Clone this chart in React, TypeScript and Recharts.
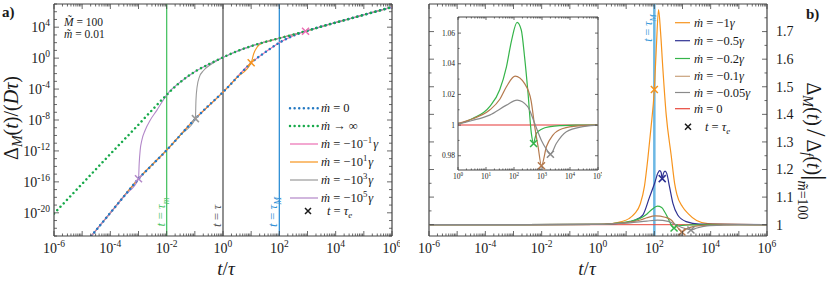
import React from 'react';
import { LineChart, Line, XAxis, YAxis, ReferenceLine, ReferenceDot } from 'recharts';

const SERIF = "'Liberation Serif', 'DejaVu Serif', 'Times New Roman', serif";
const AXIS = '#444444';
const INK = '#1a1a1a';

// ---------- panel a (log10 t/tau, log10 Delta_M/(D tau)) ----------
const zeroLogT = [-5, -4.7, -4, -3.5, -3, -2.5, -2, -1.5, -1, -0.5, 0, 0.5, 1, 1.5, 2, 2.5, 3, 3.5, 4, 5, 6];
const zeroLogD = [-24.4, -23.1, -20.0, -17.8, -15.6, -13.75, -11.9, -9.9, -7.9, -6.1, -4.4, -2.5, -0.6, 0.77, 2.0, 2.9, 3.55, 4.1, 4.6, 5.6, 6.6];

const infLogT = [-6, -5, -4, -3, -2.5, -2, -1.5, -1, -0.5, 0, 0.5, 1, 1.5, 2, 2.5, 3, 3.5, 4, 5, 6];
const infLogD = [-20.1, -16.25, -12.4, -8.6, -6.65, -4.75, -3.05, -1.75, -0.78, 0.1, 0.9, 1.55, 2.1, 2.58, 3.05, 3.55, 4.1, 4.6, 5.6, 6.6];

const pinkLogT = [-5, -4.7, -4, -3, -2, -1, 0, 1, 1.5, 2, 2.5, 2.93, 3.5, 4, 5, 6];
const pinkLogD = [-24.4, -23.1, -20.0, -15.6, -11.9, -7.9, -4.4, -0.6, 0.77, 2.0, 2.9, 3.48, 4.1, 4.6, 5.6, 6.6];

const orangeLogT = [-5, -4.7, -4, -3, -2, -1, 0, 0.5, 1.0, 1.09, 1.21, 1.39, 1.63, 1.86, 2.5, 3, 4, 5, 6];
const orangeLogD = [-24.4, -23.1, -20.0, -15.6, -11.9, -7.9, -4.4, -2.5, -0.6, 0.57, 1.42, 1.95, 2.2, 2.44, 3.05, 3.55, 4.6, 5.6, 6.6];

const grayLogT = [-5, -4.7, -4, -3, -2, -1.5, -0.98, -0.96, -0.92, -0.84, -0.69, -0.45, -0.15, 0.1, 0.5, 1, 1.5, 2, 3, 4, 5, 6];
const grayLogD = [-24.4, -23.1, -20.0, -15.6, -11.9, -9.9, -7.82, -5.46, -3.74, -2.45, -1.6, -0.85, -0.2, 0.26, 0.9, 1.55, 2.1, 2.58, 3.55, 4.6, 5.6, 6.6];

const purpleLogT = [-5, -4.7, -4, -3.5, -3.0, -2.975, -2.94, -2.88, -2.76, -2.58, -2.35, -2.17, -2.0, -1.5, -1, -0.5, 0, 0.5, 1, 1.5, 2, 3, 4, 5, 6];
const purpleLogD = [-24.4, -23.1, -20.0, -17.8, -15.6, -13.6, -11.9, -10.6, -9.3, -8.0, -6.75, -5.7, -4.75, -3.05, -1.75, -0.78, 0.1, 0.9, 1.55, 2.1, 2.58, 3.55, 4.6, 5.6, 6.6];

// crosses t = tau_e : pink, orange, gray, purple
const aCrossLogT = [2.93, 1.0, -0.98, -3.0];
const aCrossLogD = [3.48, -0.6, -7.82, -15.6];

// vertical markers tau_m, tau, tau_M
const aMarkLogT = [-2, 0, 2];

// ---------- panel b (log10 t/tau, ratio) ----------
const b1LogT = [-6, 0, 0.5, 0.8, 1.1, 1.3, 1.5, 1.65, 1.77, 1.88, 2.0, 2.07, 2.15, 2.22, 2.3, 2.42, 2.6, 2.72, 2.8, 3.0, 3.2, 3.5, 3.9, 6];
const b1Val = [1, 1.001, 1.004, 1.01, 1.022, 1.04, 1.075, 1.14, 1.24, 1.35, 1.49, 1.64, 1.78, 1.70, 1.57, 1.40, 1.25, 1.15, 1.11, 1.065, 1.04, 1.015, 1.004, 1];

const b05LogT = [-6, 0, 0.5, 1.0, 1.3, 1.59, 1.83, 2.01, 2.13, 2.19, 2.24, 2.28, 2.32, 2.38, 2.44, 2.54, 2.66, 2.83, 3.13, 3.6, 6];
const b05Val = [1, 1.001, 1.003, 1.008, 1.016, 1.035, 1.10, 1.15, 1.188, 1.196, 1.19, 1.167, 1.185, 1.194, 1.186, 1.137, 1.077, 1.035, 1.011, 1.002, 1];

const b02LogT = [-6, 0, 0.54, 1.13, 1.49, 1.73, 1.91, 2.11, 2.26, 2.38, 2.5, 2.62, 2.70, 2.75, 2.8, 3.0, 3.3, 3.7, 4.2, 5, 6];
const b02Val = [1, 1.001, 1.0044, 1.012, 1.023, 1.038, 1.055, 1.067, 1.062, 1.044, 1.021, 0.9946, 0.988, 0.9915, 0.9946, 0.9975, 0.999, 0.9997, 1, 1, 1];

const b01LogT = [-6, 0, 0.5, 1.13, 1.5, 1.73, 2.04, 2.38, 2.61, 2.74, 2.86, 2.98, 3.16, 3.39, 3.75, 4.3, 5, 6];
const b01Val = [1, 1.0013, 1.004, 1.0098, 1.017, 1.025, 1.0319, 1.027, 1.016, 0.999, 0.986, 0.9735, 0.986, 0.9935, 0.9978, 0.9995, 1, 1];

const b005LogT = [-6, 0, 0.5, 1.13, 1.73, 2.11, 2.49, 2.74, 2.98, 3.15, 3.30, 3.51, 3.87, 4.46, 5, 6];
const b005Val = [1, 1.001, 1.003, 1.0065, 1.013, 1.0163, 1.012, 1.001, 0.990, 0.9845, 0.981, 0.988, 0.9957, 0.999, 1, 1];

const b0LogT = [-6, 6];
const b0Val = [1, 1];

// crosses: -1, -0.5, -0.2, -0.1, -0.05
const bCrossLogT = [2.0, 2.28, 2.70, 2.98, 3.30];
const bCrossVal = [1.49, 1.167, 0.988, 0.9735, 0.981];

const bMarkLogT = 2;

// ---------- axes ----------
const mainXDecades = [-6, -5, -4, -3, -2, -1, 0, 1, 2, 3, 4, 5, 6];
const mainXLabels = [-6, -4, -2, 0, 2, 4, 6];
const aYDecades = [-23, -22, -21, -20, -19, -18, -17, -16, -15, -14, -13, -12, -11, -10, -9, -8, -7, -6, -5, -4, -3, -2, -1, 0, 1, 2, 3, 4, 5, 6, 7];
const aYLabels = [-20, -16, -12, -8, -4, 0, 4];
const bYTicks = [1, 1.05, 1.1, 1.15, 1.2, 1.25, 1.3, 1.35, 1.4, 1.45, 1.5, 1.55, 1.6, 1.65, 1.7, 1.75];
const bYLabels = [1, 1.1, 1.2, 1.3, 1.4, 1.5, 1.6, 1.7];
const insetXDecades = [0, 1, 2, 3, 4, 5];
const insetYTicks = [0.98, 0.99, 1, 1.01, 1.02, 1.03, 1.04, 1.05, 1.06, 1.07];
const insetYLabels = [0.98, 1, 1.02, 1.04, 1.06];

const withMinor = (decs: number[]) =>
  decs.flatMap((d, i) => (i === decs.length - 1 ? [10 ** d] : [1, 2, 3, 4, 5, 6, 7, 8, 9].map((k) => k * 10 ** d)));

const logRows = (lt: number[], ld: number[]) => lt.map((v, i) => ({ t: 10 ** v, y: 10 ** ld[i] }));
const linRows = (lt: number[], vals: number[]) => lt.map((v, i) => ({ t: 10 ** v, y: vals[i] }));

const txt = (fs: number) => ({ fontFamily: SERIF, fontSize: fs });

function LogXTick(props: any) {
  const { x, payload, pTop, pBottom, lbls, fs, majLen, minLen, gap } = props;
  const e = Math.log10(payload.value);
  const n = Math.round(e);
  const major = Math.abs(e - n) < 1e-6;
  const len = major ? majLen : minLen;
  return (
    <g>
      <line x1={x} x2={x} y1={pBottom} y2={pBottom - len} stroke={AXIS} strokeWidth={0.8} />
      <line x1={x} x2={x} y1={pTop} y2={pTop + len} stroke={AXIS} strokeWidth={0.8} />
      {major && lbls.includes(n) && (
        <text x={x} y={pBottom + gap} textAnchor="middle" style={txt(fs)} fill={INK}>
          10
          <tspan dy={-fs * 0.42} style={{ fontSize: fs * 0.68 }}>
            {n}
          </tspan>
        </text>
      )}
    </g>
  );
}

function LogYTick(props: any) {
  const { y, payload, pLeft, pRight, lbls, fs } = props;
  const n = Math.round(Math.log10(payload.value));
  const major = lbls.includes(n);
  const len = major ? 5 : 3;
  return (
    <g>
      <line x1={pLeft} x2={pLeft + len} y1={y} y2={y} stroke={AXIS} strokeWidth={0.8} />
      <line x1={pRight} x2={pRight - len} y1={y} y2={y} stroke={AXIS} strokeWidth={0.8} />
      {major && (
        <text x={pLeft - 4} y={y + 5} textAnchor="end" style={txt(fs)} fill={INK}>
          10
          <tspan dy={-fs * 0.42} style={{ fontSize: fs * 0.68 }}>
            {n}
          </tspan>
        </text>
      )}
    </g>
  );
}

function LinYTick(props: any) {
  const { y, payload, pLeft, pRight, lbls, fs, side, majLen, minLen } = props;
  const v = payload.value as number;
  const major = lbls.some((l: number) => Math.abs(l - v) < 1e-9);
  const len = major ? majLen : minLen;
  const label = Number(v.toFixed(2)).toString();
  return (
    <g>
      <line x1={pLeft} x2={pLeft + len} y1={y} y2={y} stroke={AXIS} strokeWidth={0.8} />
      <line x1={pRight} x2={pRight - len} y1={y} y2={y} stroke={AXIS} strokeWidth={0.8} />
      {major && (
        <text
          x={side === 'right' ? pRight + 9 : pLeft - 3}
          y={y + fs * 0.35}
          textAnchor={side === 'right' ? 'start' : 'end'}
          style={txt(fs)}
          fill={INK}
        >
          {label}
        </text>
      )}
    </g>
  );
}

function VLabel(props: any) {
  const { viewBox, sub, color, fromBottom, fromTop, fs } = props;
  if (!viewBox) return null;
  const x = viewBox.x - 2;
  const y = fromTop != null ? viewBox.y + fromTop : viewBox.y + viewBox.height - fromBottom;
  return (
    <text transform={`translate(${x},${y}) rotate(-90)`} textAnchor="middle" style={txt(fs)} fill={color}>
      <tspan fontStyle="italic">t</tspan> = <tspan fontStyle="italic">τ</tspan>
      {sub && (
        <tspan dy={fs * 0.3} style={{ fontSize: fs * 0.72 }} fontStyle="italic">
          {sub}
        </tspan>
      )}
    </text>
  );
}

function Cross({ cx, cy, color, s = 3.5, w = 1.5 }: any) {
  return (
    <path
      d={`M${cx - s},${cy - s}L${cx + s},${cy + s}M${cx - s},${cy + s}L${cx + s},${cy - s}`}
      stroke={color}
      strokeWidth={w}
      fill="none"
    />
  );
}

const A = { blue: '#2479c2', green: '#17a94a', pink: '#ec6fb3', orange: '#f7941d', gray: '#9a9a9a', purple: '#b388c9' };
const B = { orange: '#f7941d', navy: '#2e3192', green: '#35b44a', brown: '#b57a4e', gray: '#8a8a8a', red: '#e8473b' };

function PanelA() {
  const crossColors = [A.pink, A.orange, A.gray, A.purple];
  const markColors = ['#4cc466', '#555555', '#2f8fd6'];
  const markSubs = ['m', '', 'M'];
  const solid = { dot: false, isAnimationActive: false, type: 'monotone' as const, dataKey: 'y', strokeWidth: 1.1 };
  const dotted = { ...solid, strokeWidth: 2.5, strokeDasharray: '0.01 4.7', strokeLinecap: 'round' as const };
  return (
    <LineChart width={400} height={286} margin={{ top: 4, right: 8, bottom: 0, left: 0 }}>
      <XAxis
        type="number"
        dataKey="t"
        scale="log"
        domain={[1e-6, 1e6]}
        ticks={withMinor(mainXDecades)}
        interval={0}
        allowDataOverflow
        height={50}
        axisLine={{ stroke: AXIS, strokeWidth: 1.2 }}
        tickLine={false}
        tick={<LogXTick pTop={4} pBottom={236} lbls={mainXLabels} fs={14} majLen={5} minLen={2.5} gap={17} />}
      />
      <YAxis
        type="number"
        dataKey="y"
        scale="log"
        domain={[1e-23, 1e7]}
        ticks={aYDecades.map((d) => 10 ** d)}
        interval={0}
        allowDataOverflow
        width={54}
        axisLine={{ stroke: AXIS, strokeWidth: 1.2 }}
        tickLine={false}
        tick={<LogYTick pLeft={54} pRight={392} lbls={aYLabels} fs={14} />}
      />
      <ReferenceLine y={1e7} stroke={AXIS} strokeWidth={1.2} />
      <ReferenceLine x={1e6} stroke={AXIS} strokeWidth={1.2} />
      {aMarkLogT.map((lt, i) => (
        <ReferenceLine
          key={lt}
          x={10 ** lt}
          stroke={markColors[i]}
          strokeWidth={1.3}
          label={<VLabel sub={markSubs[i]} color={markColors[i]} fromBottom={i === 1 ? 20 : 24} fs={13} />}
        />
      ))}
      <Line {...solid} data={logRows(pinkLogT, pinkLogD)} stroke={A.pink} />
      <Line {...solid} data={logRows(grayLogT, grayLogD)} stroke={A.gray} />
      <Line {...solid} data={logRows(orangeLogT, orangeLogD)} stroke={A.orange} />
      <Line {...solid} data={logRows(purpleLogT, purpleLogD)} stroke={A.purple} />
      <Line {...dotted} data={logRows(zeroLogT, zeroLogD)} stroke={A.blue} />
      <Line {...dotted} data={logRows(infLogT, infLogD)} stroke={A.green} />
      {aCrossLogT.map((lt, i) => (
        <ReferenceDot
          key={lt}
          x={10 ** lt}
          y={10 ** aCrossLogD[i]}
          r={4}
          shape={(p: any) => <Cross cx={p.cx} cy={p.cy} color={crossColors[i]} />}
        />
      ))}
    </LineChart>
  );
}

function PanelB() {
  const crossColors = [B.orange, B.navy, B.green, B.brown, B.gray];
  const solid = { dot: false, isAnimationActive: false, type: 'monotone' as const, dataKey: 'y', strokeWidth: 1.2 };
  return (
    <LineChart width={416} height={286} margin={{ top: 4, right: 0, bottom: 0, left: 14 }}>
      <XAxis
        type="number"
        dataKey="t"
        scale="log"
        domain={[1e-6, 1e6]}
        ticks={withMinor(mainXDecades)}
        interval={0}
        allowDataOverflow
        height={50}
        axisLine={{ stroke: AXIS, strokeWidth: 1.2 }}
        tickLine={false}
        tick={<LogXTick pTop={4} pBottom={236} lbls={mainXLabels} fs={14} majLen={5} minLen={2.5} gap={17} />}
      />
      <YAxis
        type="number"
        dataKey="y"
        orientation="right"
        domain={[0.959, 1.8]}
        ticks={bYTicks}
        interval={0}
        allowDataOverflow
        width={64}
        axisLine={{ stroke: AXIS, strokeWidth: 1.2 }}
        tickLine={false}
        tick={<LinYTick pLeft={14} pRight={352} lbls={bYLabels} fs={14} side="right" majLen={5} minLen={2.5} />}
      />
      <ReferenceLine y={1.8} stroke={AXIS} strokeWidth={1.2} />
      <ReferenceLine x={1e-6} stroke={AXIS} strokeWidth={1.2} />
      <ReferenceLine
        x={10 ** bMarkLogT}
        stroke="#6cb7e4"
        strokeWidth={2.5}
        label={<VLabel sub="M" color="#3a9ad9" fromTop={24} fs={12} />}
      />
      <Line {...solid} data={linRows(b0LogT, b0Val)} stroke={B.red} strokeWidth={1} />
      <Line {...solid} data={linRows(b1LogT, b1Val)} stroke={B.orange} />
      <Line {...solid} data={linRows(b05LogT, b05Val)} stroke={B.navy} />
      <Line {...solid} data={linRows(b02LogT, b02Val)} stroke={B.green} />
      <Line {...solid} data={linRows(b01LogT, b01Val)} stroke={B.brown} />
      <Line {...solid} data={linRows(b005LogT, b005Val)} stroke={B.gray} />
      {bCrossLogT.map((lt, i) => (
        <ReferenceDot
          key={lt}
          x={10 ** lt}
          y={bCrossVal[i]}
          r={4}
          shape={(p: any) => <Cross cx={p.cx} cy={p.cy} color={crossColors[i]} />}
        />
      ))}
    </LineChart>
  );
}

function Inset() {
  const crossColors = [B.green, B.brown, B.gray];
  const solid = { dot: false, isAnimationActive: false, type: 'monotone' as const, dataKey: 'y', strokeWidth: 1.2 };
  return (
    <LineChart width={172} height={175} margin={{ top: 5, right: 4, bottom: 0, left: 0 }}>
      <XAxis
        type="number"
        dataKey="t"
        scale="log"
        domain={[1, 1e5]}
        ticks={withMinor(insetXDecades)}
        interval={0}
        allowDataOverflow
        height={17}
        axisLine={{ stroke: AXIS, strokeWidth: 1 }}
        tickLine={false}
        tick={<LogXTick pTop={5} pBottom={158} lbls={insetXDecades} fs={7.5} majLen={3} minLen={1.5} gap={9} />}
      />
      <YAxis
        type="number"
        dataKey="y"
        domain={[0.9707, 1.0705]}
        ticks={insetYTicks}
        interval={0}
        allowDataOverflow
        width={28}
        axisLine={{ stroke: AXIS, strokeWidth: 1 }}
        tickLine={false}
        tick={<LinYTick pLeft={28} pRight={168} lbls={insetYLabels} fs={7.5} side="left" majLen={3} minLen={1.5} />}
      />
      <ReferenceLine y={1.0705} stroke={AXIS} strokeWidth={1} />
      <ReferenceLine x={1e5} stroke={AXIS} strokeWidth={1} />
      <Line {...solid} data={linRows(b0LogT, b0Val)} stroke="#f29a9a" strokeWidth={2} />
      <Line {...solid} data={linRows(b02LogT, b02Val)} stroke={B.green} />
      <Line {...solid} data={linRows(b01LogT, b01Val)} stroke={B.brown} />
      <Line {...solid} data={linRows(b005LogT, b005Val)} stroke={B.gray} />
      {bCrossLogT.slice(2).map((lt, i) => (
        <ReferenceDot
          key={lt}
          x={10 ** lt}
          y={bCrossVal[i + 2]}
          r={4}
          shape={(p: any) => <Cross cx={p.cx} cy={p.cy} color={crossColors[i]} s={3.5} w={1.6} />}
        />
      ))}
    </LineChart>
  );
}

const It = ({ children }: any) => <tspan fontStyle="italic">{children}</tspan>;

function Overlay() {
  const fs = 12.5;
  const aRows = [108.3, 126, 144, 162, 180, 198, 211];
  const bRows = [22.7, 40.7, 58.5, 76.3, 92.5, 108.7, 126.7];
  const sup = (s: string, size: number) => [
    <tspan key="s" dy={-size * 0.42} style={{ fontSize: size * 0.7 }}>
      {s}
    </tspan>,
    <tspan key="r" dy={size * 0.42}>{'\u200a'}</tspan>,
  ];
  const aLegend = [
    { color: A.blue, dotted: true, text: <><It>ṁ</It> = 0</> },
    { color: A.green, dotted: true, text: <><It>ṁ</It> → ∞</> },
    { color: A.pink, text: <><It>ṁ</It> = −10{sup('−1', fs)}<It>γ</It></> },
    { color: A.orange, text: <><It>ṁ</It> = −10{sup('1', fs)}<It>γ</It></> },
    { color: A.gray, text: <><It>ṁ</It> = −10{sup('3', fs)}<It>γ</It></> },
    { color: A.purple, text: <><It>ṁ</It> = −10{sup('5', fs)}<It>γ</It></> },
  ];
  const bLegend = [
    { color: B.orange, text: '−1' },
    { color: B.navy, text: '−0.5' },
    { color: B.green, text: '−0.2' },
    { color: '#c9a27c', text: '−0.1' },
    { color: B.gray, text: '−0.05' },
    { color: B.red, text: '0' },
  ];
  return (
    <svg width={831} height={286} style={{ position: 'absolute', left: 0, top: 0, pointerEvents: 'none', fontFamily: SERIF }}>
      <text x={2} y={17} style={txt(15)} fontWeight="bold" fill={INK}>a)</text>
      <text x={806} y={19} style={txt(15)} fontWeight="bold" fill={INK}>b)</text>

      <text x={64} y={26} style={txt(11.5)} fill={INK}><It>{'M\u0303'}</It> = 100</text>
      <text x={64} y={38} style={txt(11.5)} fill={INK}><It>{'m\u0303'}</It> = 0.01</text>

      {/* panel a legend */}
      {aLegend.map((r, i) => (
        <g key={i}>
          <line
            x1={290}
            x2={318}
            y1={aRows[i]}
            y2={aRows[i]}
            stroke={r.color}
            strokeWidth={r.dotted ? 2.5 : 1.2}
            strokeDasharray={r.dotted ? '0.01 4.6' : undefined}
            strokeLinecap={r.dotted ? 'round' : 'butt'}
          />
          <text x={321} y={aRows[i] + 4} style={txt(fs)} fill={INK}>{r.text}</text>
        </g>
      ))}
      <Cross cx={308} cy={aRows[6]} color={INK} s={3} w={1.5} />
      <text x={327} y={aRows[6] + 4} style={txt(fs)} fill={INK}>
        <It>t</It> = <It>τ</It><tspan dy={3} style={{ fontSize: 9 }} fontStyle="italic">e</tspan>
      </text>

      {/* panel b legend */}
      {bLegend.map((r, i) => (
        <g key={i}>
          <line x1={675} x2={690} y1={bRows[i]} y2={bRows[i]} stroke={r.color} strokeWidth={1.2} />
          <text x={694} y={bRows[i] + 4} style={txt(fs)} fill={INK}>
            <It>ṁ</It> = {r.text}{r.text !== '0' && <It>γ</It>}
          </text>
        </g>
      ))}
      <Cross cx={688} cy={bRows[6]} color={INK} s={3} w={1.5} />
      <text x={705} y={bRows[6] + 4} style={txt(fs)} fill={INK}>
        <It>t</It> = <It>τ</It><tspan dy={3} style={{ fontSize: 9 }} fontStyle="italic">e</tspan>
      </text>

      {/* axis titles */}
      <text x={226} y={275} textAnchor="middle" style={txt(19)} fill={INK}>
        <It>t</It>/<It>τ</It>
      </text>
      <text x={587} y={275} textAnchor="middle" style={txt(19)} fill={INK}>
        <It>t</It>/<It>τ</It>
      </text>
      <text transform="translate(18,118) rotate(-90)" textAnchor="middle" style={txt(20)} fill={INK}>
        Δ<tspan dy={4} style={{ fontSize: 14 }} fontStyle="italic">M</tspan>
        <tspan dy={-4}>(</tspan><It>t</It>)/(<It>D</It><It>τ</It>)
      </text>
      <text transform="translate(807,151) rotate(90)" textAnchor="middle" style={txt(20)} fill={INK}>
        Δ<tspan dy={4} style={{ fontSize: 14 }} fontStyle="italic">M</tspan>
        <tspan dy={-4}>(</tspan><It>t</It>)
        <tspan style={{ fontSize: 27 }} dx={3}>/</tspan>
        <tspan dx={3}>Δ</tspan><tspan dy={4} style={{ fontSize: 14 }} fontStyle="italic">f</tspan>
        <tspan dy={-4}>(</tspan><It>t</It>)<tspan style={{ fontSize: 27 }}>|</tspan>
        <tspan dy={9} style={{ fontSize: 14 }} fontStyle="italic">{'m\u0303'}</tspan><tspan style={{ fontSize: 14 }}>=100</tspan>
      </text>
    </svg>
  );
}

export default function App() {
  return (
    <div style={{ position: 'absolute', left: 0, top: 0, width: 831, height: 286, background: '#fff', fontFamily: SERIF }}>
      <div style={{ position: 'absolute', left: 0, top: 0 }}>
        <PanelA />
      </div>
      <div style={{ position: 'absolute', left: 415, top: 0 }}>
        <PanelB />
      </div>
      <div style={{ position: 'absolute', left: 430, top: 12 }}>
        <Inset />
      </div>
      <Overlay />
    </div>
  );
}
